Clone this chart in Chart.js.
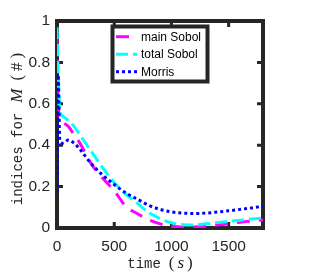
<!DOCTYPE html>
<html><head><meta charset="utf-8">
<script src="https://cdn.jsdelivr.net/npm/chart.js@4.4.1/dist/chart.umd.min.js"></script>
<style>html,body{margin:0;padding:0;background:#fff}#wrap{width:309px;height:276px}</style>
</head><body><div id="wrap"><canvas id="c" width="309" height="276"></canvas></div>
<script>
const timeS      = [0, 10, 25, 50, 100, 150, 200, 300, 400, 500, 600, 700, 800, 900, 1000, 1100, 1200, 1300, 1400, 1500, 1600, 1700, 1800];
const mainSobol  = [0.92, 0.62, 0.53, 0.51, 0.49, 0.45, 0.41, 0.31, 0.24, 0.18, 0.105, 0.07, 0.04, 0.02, 0.008, 0.004, 0.005, 0.008, 0.014, 0.021, 0.028, 0.034, 0.04];
const totalSobol = [0.97, 0.76, 0.57, 0.54, 0.52, 0.49, 0.45, 0.37, 0.29, 0.22, 0.165, 0.12, 0.075, 0.045, 0.025, 0.016, 0.015, 0.02, 0.026, 0.032, 0.038, 0.043, 0.048];
const morris     = [0.17, 0.74, 0.42, 0.41, 0.425, 0.41, 0.38, 0.31, 0.255, 0.21, 0.17, 0.14, 0.11, 0.09, 0.078, 0.072, 0.07, 0.072, 0.077, 0.083, 0.09, 0.097, 0.105];
const seriesLabels = ['main Sobol', 'total Sobol', 'Morris'];
const xTickValues = [0, 500, 1000, 1500];
const yTickValues = [0, 0.2, 0.4, 0.6, 0.8, 1];
const xTitleParts = ['time', '(', 's', ')'];
const yTitleParts = ['indices for', 'M', '(', '#', ')'];

const FRAME = '#262626';
const pts = arr => timeS.map((t, i) => ({x: t, y: arr[i]}));

const mono = '14px "Liberation Mono", "DejaVu Sans Mono", monospace';
const serif = '17px "Liberation Serif", "DejaVu Serif", serif';
const serifIt = 'italic 17px "Liberation Serif", "DejaVu Serif", serif';

function drawParts(ctx, parts, tx, ty, rotate) {
  let total = 0;
  parts.forEach(p => { ctx.font = p.font; p.w = ctx.measureText(p.text).width; total += p.gap + p.w; });
  ctx.save();
  ctx.translate(tx, ty);
  if (rotate) ctx.rotate(-Math.PI / 2);
  let x = -total / 2;
  ctx.fillStyle = FRAME; ctx.textBaseline = 'alphabetic'; ctx.textAlign = 'left';
  parts.forEach(p => { x += p.gap; ctx.font = p.font; ctx.fillText(p.text, x, 0); x += p.w; });
  ctx.restore();
}

const framePlugin = {
  id: 'frameUnder',
  beforeDatasetsDraw(chart) {
    const ctx = chart.ctx, a = chart.chartArea;
    const xs = chart.scales.x, ys = chart.scales.y;
    ctx.save();
    ctx.strokeStyle = FRAME; ctx.lineWidth = 4; ctx.setLineDash([]);
    ctx.strokeRect(a.left, a.top, a.right - a.left, a.bottom - a.top);
    ctx.lineWidth = 3;
    const tl = 6;
    ctx.beginPath();
    xTickValues.forEach(v => {
      const px = xs.getPixelForValue(v);
      ctx.moveTo(px, a.bottom); ctx.lineTo(px, a.bottom - tl);
      ctx.moveTo(px, a.top); ctx.lineTo(px, a.top + tl);
    });
    yTickValues.forEach(v => {
      const py = ys.getPixelForValue(v);
      ctx.moveTo(a.left, py); ctx.lineTo(a.left + tl, py);
      ctx.moveTo(a.right, py); ctx.lineTo(a.right - tl, py);
    });
    ctx.stroke();
    ctx.restore();
  },
  afterDraw(chart) {
    const ctx = chart.ctx, a = chart.chartArea;
    ctx.save();
    // legend box
    const L = {left: 112.5, right: 207.5, top: 26.5, bottom: 81.5};
    ctx.fillStyle = '#fff';
    ctx.fillRect(L.left, L.top, L.right - L.left, L.bottom - L.top);
    ctx.lineWidth = 4; ctx.strokeStyle = FRAME;
    ctx.strokeRect(L.left, L.top, L.right - L.left, L.bottom - L.top);
    const rows = [36.7, 54.2, 71.7];
    chart.data.datasets.forEach((ds, i) => {
      const y = rows[i];
      ctx.save();
      ctx.strokeStyle = ds.borderColor; ctx.lineWidth = ds.borderWidth;
      ctx.setLineDash(ds.borderDash || []);
      ctx.beginPath(); ctx.moveTo(116, y); ctx.lineTo(137, y); ctx.stroke();
      ctx.restore();
      ctx.fillStyle = '#000';
      ctx.font = '12px "Liberation Sans", Arial, sans-serif';
      ctx.textBaseline = 'middle'; ctx.textAlign = 'left';
      ctx.fillText(ds.label, 141, y + 0.5);
    });
    ctx.restore();

    drawParts(ctx, [
      {text: xTitleParts[0], font: mono, gap: 0},
      {text: xTitleParts[1], font: serif, gap: 8},
      {text: xTitleParts[2], font: serifIt, gap: 3},
      {text: xTitleParts[3], font: serif, gap: 3}
    ], (a.left + a.right) / 2, 268, false);

    drawParts(ctx, [
      {text: yTitleParts[0], font: mono, gap: 0},
      {text: yTitleParts[1], font: serifIt, gap: 10},
      {text: yTitleParts[2], font: serif, gap: 8},
      {text: yTitleParts[3], font: serif, gap: 4},
      {text: yTitleParts[4], font: serif, gap: 4}
    ], 22, 129, true);
  }
};

const tickFont = {family: '"Liberation Sans", Arial, sans-serif', size: 15.5};

new Chart(document.getElementById('c'), {
  type: 'line',
  data: {
    datasets: [
      {label: seriesLabels[0], data: pts(mainSobol), borderColor: '#ff00ff', borderWidth: 3, borderDash: [13, 9], order: 3},
      {label: seriesLabels[1], data: pts(totalSobol), borderColor: '#00ffff', borderWidth: 3, borderDash: [12, 5], order: 2},
      {label: seriesLabels[2], data: pts(morris), borderColor: '#0000ff', borderWidth: 3, borderDash: [3, 3], order: 1}
    ]
  },
  options: {
    responsive: false, animation: false, devicePixelRatio: 1,
    layout: {padding: {top: 21, right: 46, left: 0, bottom: 0}},
    elements: {point: {radius: 0}, line: {cubicInterpolationMode: 'monotone', fill: false}},
    plugins: {legend: {display: false}, tooltip: {enabled: false}},
    scales: {
      x: {
        type: 'linear', min: 0, max: 1800,
        afterBuildTicks: s => { s.ticks = xTickValues.map(v => ({value: v})); },
        ticks: {font: tickFont, color: FRAME, padding: 9, maxRotation: 0, autoSkip: false, callback: v => String(v)},
        grid: {display: false, drawTicks: false},
        border: {display: false},
        afterFit: s => { s.height = 48; }
      },
      y: {
        type: 'linear', min: 0, max: 1,
        afterBuildTicks: s => { s.ticks = yTickValues.map(v => ({value: v})); },
        ticks: {font: tickFont, color: FRAME, padding: 7, autoSkip: false, callback: v => String(v)},
        grid: {display: false, drawTicks: false},
        border: {display: false},
        afterFit: s => { s.width = 57; }
      }
    }
  },
  plugins: [framePlugin]
});
</script></body></html>
